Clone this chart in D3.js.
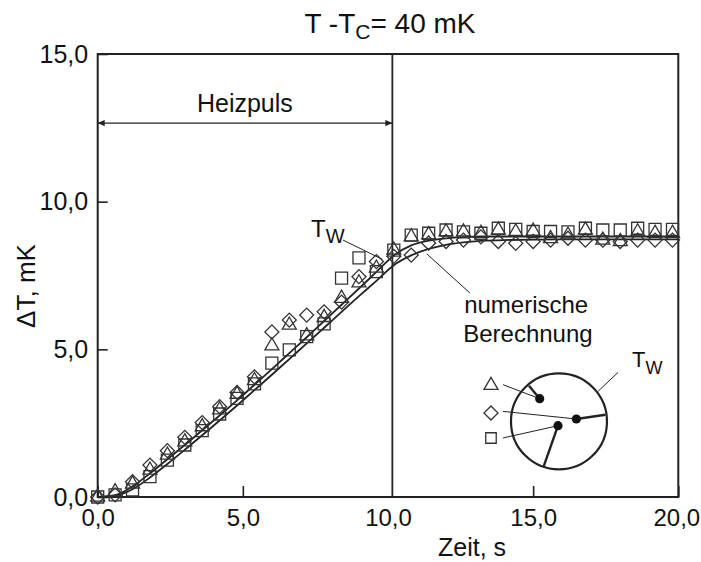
<!DOCTYPE html>
<html><head><meta charset="utf-8">
<script src="https://cdn.jsdelivr.net/npm/d3@7"></script>
<style>
body{margin:0;background:#fff}
svg{display:block}
text{font-family:"Liberation Sans",Arial,sans-serif;fill:#111}
</style>
</head><body><svg id="c" width="701" height="562"></svg>
<script>
// ---- data ----
const times = [0,0.6,1.2,1.8,2.4,3.0,3.6,4.2,4.8,5.4,6.0,6.6,7.2,7.8,8.4,9.0,9.6,10.2,10.8,11.4,12.0,12.6,13.2,13.8,14.4,15.0,15.6,16.2,16.8,17.4,18.0,18.6,19.2,19.8];
const squares   = [0.0,0.07,0.24,0.69,1.25,1.76,2.25,2.81,3.34,3.83,4.53,4.98,5.43,5.86,7.41,8.10,7.63,8.36,8.87,8.93,9.04,8.98,8.93,9.10,9.06,8.99,8.99,8.98,9.10,9.04,9.04,9.10,9.06,9.06];
const triangles = [0.0,0.18,0.44,0.91,1.42,1.87,2.38,2.95,3.48,3.94,5.12,5.82,5.46,6.08,6.73,7.25,7.75,8.36,8.81,8.88,8.98,8.98,8.93,9.04,8.98,9.00,8.75,8.87,9.04,8.70,8.65,8.98,8.93,8.93];
const diamonds  = [0.0,0.07,0.52,1.08,1.57,2.02,2.52,3.06,3.54,4.07,5.59,5.99,6.16,6.27,6.60,7.46,7.97,8.15,8.19,8.60,8.65,8.70,8.81,8.65,8.59,8.65,8.70,8.76,8.70,8.70,8.65,8.70,8.70,8.70];
const curveTimes = [0,0.6,1.2,1.8,2.4,3.0,3.6,4.2,4.8,5.4,6.0,6.6,7.2,7.8,8.4,9.0,9.6,10.2,10.8,11.4,12.0,12.6,13.2,14.0,16.0,18.0,20.0];
const wallCurve    = [0,0.06,0.36,0.80,1.28,1.76,2.26,2.76,3.27,3.80,4.33,4.87,5.41,5.96,6.51,7.06,7.62,8.18,8.52,8.68,8.76,8.80,8.82,8.82,8.82,8.82,8.82];
const numericCurve = [0,0.04,0.26,0.66,1.12,1.60,2.09,2.59,3.10,3.62,4.14,4.67,5.20,5.73,6.27,6.80,7.32,7.85,8.18,8.40,8.54,8.62,8.67,8.70,8.72,8.72,8.72];
const xTicks = [0,5,10,15,20];
const yTicks = [0,5,10,15];
const PULSE_END = 10.15;

// ---- drawing ----
const svg = d3.select("#c");
const ink = "#222";
const x = d3.scaleLinear().domain([0,20]).range([97.7,678.3]);
const y = d3.scaleLinear().domain([0,15]).range([497,54]);
const fmt = d => d.toFixed(1).replace(".", ",");

// frame
svg.append("rect")
  .attr("x", x(0)).attr("y", y(15))
  .attr("width", x(20)-x(0)).attr("height", y(0)-y(15))
  .attr("fill","none").attr("stroke",ink).attr("stroke-width",2);

// axes
const gx = svg.append("g").attr("transform",`translate(0,${y(0)})`)
  .call(d3.axisBottom(x).tickValues(xTicks).tickFormat(fmt).tickSize(-11).tickPadding(12));
const gy = svg.append("g").attr("transform",`translate(${x(0)},0)`)
  .call(d3.axisLeft(y).tickValues(yTicks).tickFormat(fmt).tickSize(-10).tickPadding(9.5));
[gx,gy].forEach(g=>{
  g.select(".domain").remove();
  g.selectAll(".tick line").attr("stroke",ink).attr("stroke-width",1.6);
  g.selectAll(".tick text").attr("font-size",25).attr("fill","#111")
    .style("font-family",'"Liberation Sans",Arial,sans-serif');
});
gx.selectAll(".tick text").attr("font-size",24);
gx.selectAll(".tick").filter(d=>d===20).select("text").attr("dx",-2);
gx.selectAll(".tick").filter(d=>d===10).select("line").remove();

// axis titles
svg.append("text").attr("x",472).attr("y",556).attr("text-anchor","middle")
  .attr("font-size",25).text("Zeit, s");
svg.append("text").attr("transform","translate(35,286) rotate(-90)")
  .attr("text-anchor","middle").attr("font-size",26).text("\u0394T, mK");

// title
const title = svg.append("text").attr("x",390).attr("y",33).attr("text-anchor","middle").attr("font-size",28);
title.append("tspan").text("T -T");
title.append("tspan").attr("font-size",21).attr("dy",6).text("C");
title.append("tspan").attr("dy",-6).text("= 40 mK");

// heating pulse line + arrow
svg.append("line").attr("x1",x(PULSE_END)).attr("x2",x(PULSE_END))
  .attr("y1",y(15)).attr("y2",y(0)).attr("stroke",ink).attr("stroke-width",1.8);
const defs = svg.append("defs");
defs.append("marker").attr("id","ah").attr("viewBox","0 0 10 10").attr("refX",10).attr("refY",5)
  .attr("markerWidth",10).attr("markerHeight",7).attr("markerUnits","userSpaceOnUse")
  .attr("orient","auto-start-reverse")
  .append("path").attr("d","M0,0.5 L10,5 L0,9.5 Z").attr("fill",ink);
svg.append("line").attr("x1",x(0)).attr("x2",x(PULSE_END)).attr("y1",y(12.66)).attr("y2",y(12.66))
  .attr("stroke",ink).attr("stroke-width",1.3)
  .attr("marker-start","url(#ah)").attr("marker-end","url(#ah)");
svg.append("text").attr("x",x(5.07)).attr("y",y(13.04)).attr("text-anchor","middle")
  .attr("font-size",25).text("Heizpuls");

// curves
const line = d3.line().x((d,i)=>x(curveTimes[i])).y(d=>y(d)).curve(d3.curveMonotoneX);
[wallCurve, numericCurve].forEach(c=>{
  svg.append("path").attr("d",line(c)).attr("fill","none").attr("stroke",ink).attr("stroke-width",1.8);
});

// markers
const symSquare = d3.symbol().type(d3.symbolSquare).size(144)();
const symDiamond = d3.symbol().type(d3.symbolSquare).size(98)();
const symTriangle = d3.symbol().type(d3.symbolTriangle).size(85)();
function drawSeries(vals, path, rot){
  svg.append("g").selectAll("path").data(vals).join("path")
    .attr("d",path)
    .attr("transform",(d,i)=>`translate(${x(times[i])},${y(d)}) rotate(${rot})`)
    .attr("fill","none").attr("stroke","#333").attr("stroke-width",1.3);
}
drawSeries(squares, symSquare, 0);
drawSeries(diamonds, symDiamond, 45);
drawSeries(triangles, symTriangle, 0);

// annotation T_W
const tw = svg.append("text").attr("x",x(7.35)).attr("y",y(8.80)).attr("font-size",24);
tw.append("tspan").text("T");
tw.append("tspan").attr("font-size",20).attr("dy",6).text("W");
svg.append("line").attr("x1",x(8.45)).attr("y1",y(8.70)).attr("x2",x(9.8)).attr("y2",y(8.05))
  .attr("stroke",ink).attr("stroke-width",1);

// annotation numerische Berechnung
svg.append("text").attr("x",x(14.76)).attr("y",y(6.22)).attr("text-anchor","middle").attr("font-size",24).text("numerische");
svg.append("text").attr("x",x(14.82)).attr("y",y(5.26)).attr("text-anchor","middle").attr("font-size",24).text("Berechnung");
svg.append("line").attr("x1",x(11.34)).attr("y1",y(8.23)).attr("x2",x(12.82)).attr("y2",y(6.91))
  .attr("stroke",ink).attr("stroke-width",1);

// inset schematic (sensor positions)
const ins = svg.append("g").attr("transform",`translate(${x(15.89)},${y(2.56)})`);
ins.append("circle").attr("r",48).attr("fill","none").attr("stroke",ink).attr("stroke-width",2.2);
const sensors = [
  {sym:symTriangle, rot:0,  lx:-68, ly:-36, sx:-56, sy:-36.7, dx:-19.3, dy:-22.7, ex:-30,  ey:-35.7},
  {sym:symDiamond,  rot:45, lx:-68, ly:-8.4, sx:-56, sy:-10,  dx:17.4,  dy:-2.4,  ex:46.4, ey:-6.7},
  {sym:d3.symbol().type(d3.symbolSquare).size(110)(), rot:0, lx:-68, ly:16.6, sx:-56, sy:16.6, dx:-1, dy:4.3, ex:-15.3, ey:45}
];
sensors.forEach(s=>{
  ins.append("path").attr("d",s.sym).attr("transform",`translate(${s.lx},${s.ly}) rotate(${s.rot})`)
    .attr("fill","none").attr("stroke","#333").attr("stroke-width",1.3);
  ins.append("line").attr("x1",s.sx).attr("y1",s.sy).attr("x2",s.dx).attr("y2",s.dy)
    .attr("stroke",ink).attr("stroke-width",1);
  ins.append("line").attr("x1",s.dx).attr("y1",s.dy).attr("x2",s.ex).attr("y2",s.ey)
    .attr("stroke",ink).attr("stroke-width",2.4);
  ins.append("circle").attr("cx",s.dx).attr("cy",s.dy).attr("r",4.6).attr("fill","#111");
});
ins.append("line").attr("x1",39).attr("y1",-30).attr("x2",59).attr("y2",-49).attr("stroke",ink).attr("stroke-width",1);
const tw2 = ins.append("text").attr("x",73).attr("y",-54).attr("font-size",22);
tw2.append("tspan").text("T");
tw2.append("tspan").attr("font-size",18).attr("dy",7).text("W");
</script>
</body></html>
